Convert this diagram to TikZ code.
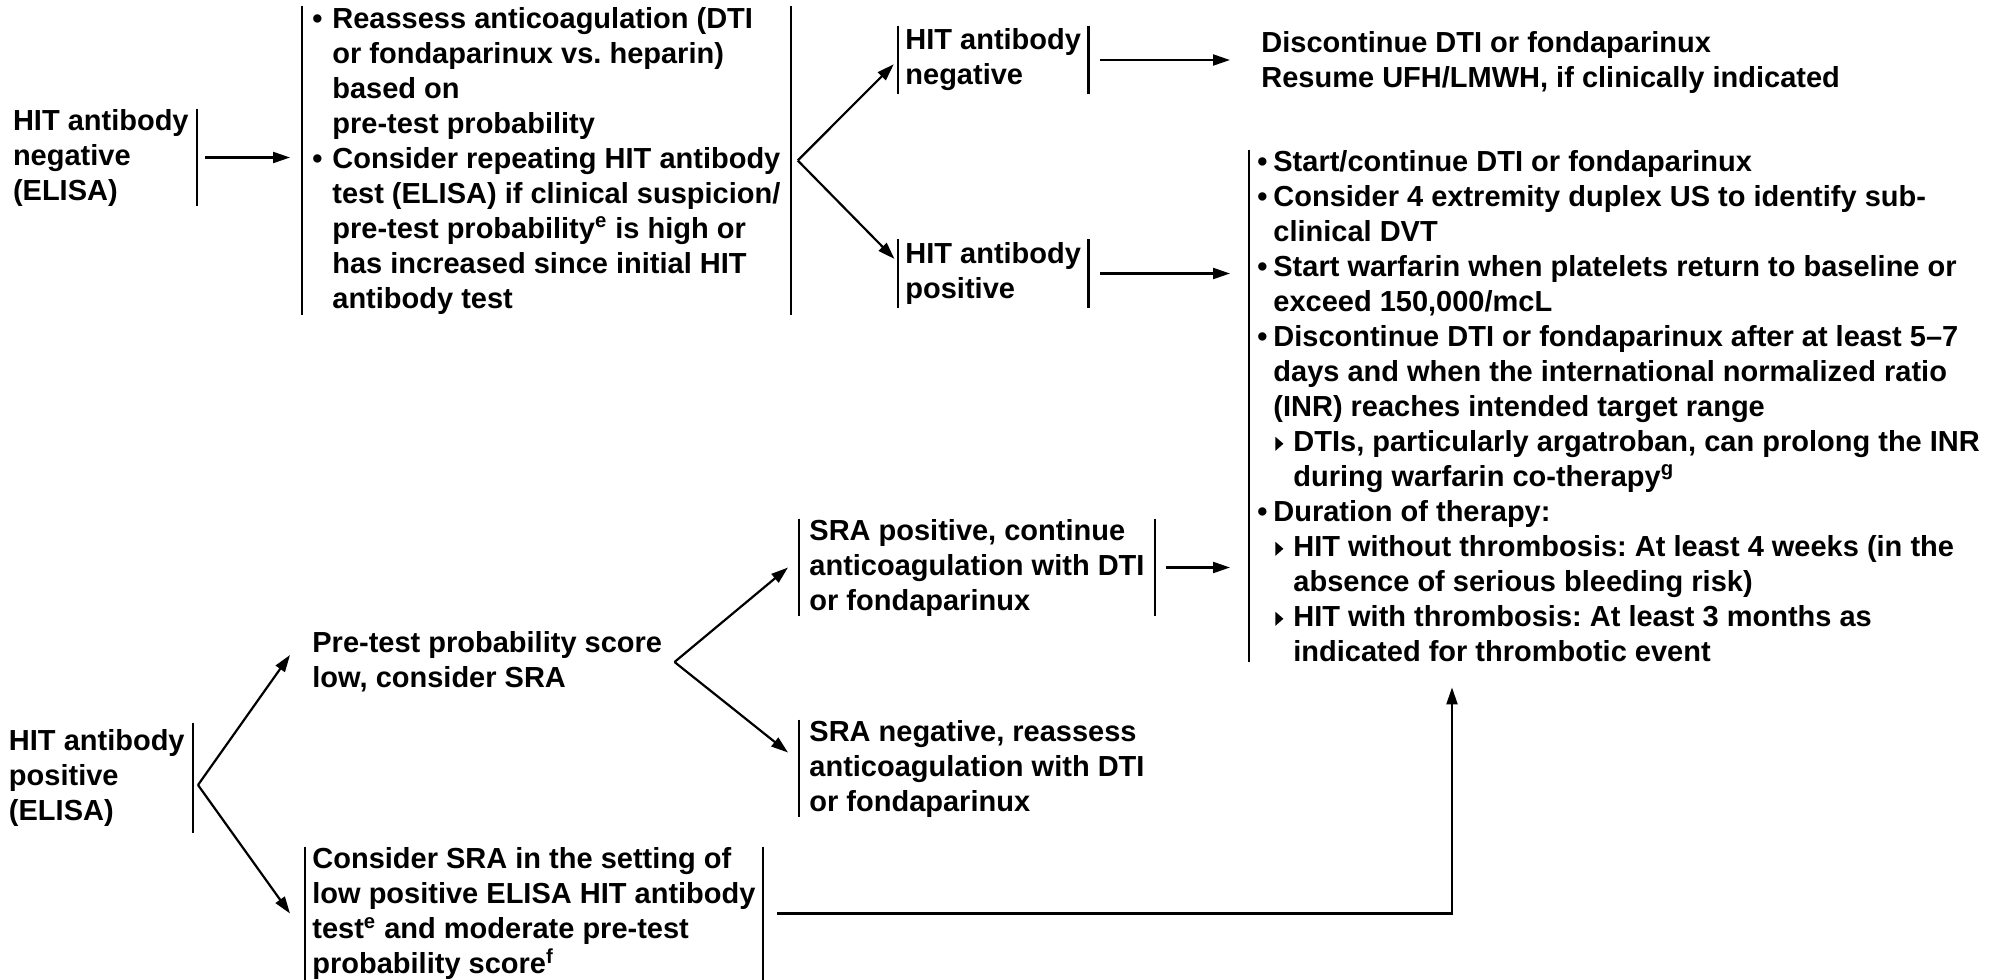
\documentclass[tikz,border=0pt]{standalone}
\usepackage{fontspec}
\setmainfont{Liberation Sans}
\usetikzlibrary{arrows.meta}
\newcommand{\bul}[1][8pt]{\makebox[#1][l]{\textbullet}}
\newcommand{\subbul}{\hspace*{9pt}\makebox[9pt][l]{\tikz[baseline=0pt]\fill (0,0.3pt) -- (0,7.3pt) -- (4pt,3.8pt) -- cycle;}}
\newcommand{\indnt}[1][8pt]{\hspace*{#1}}
\begin{document}
\begin{tikzpicture}[x=0.5pt, y=-0.5pt,
  every node/.style={font=\bfseries\fontsize{14.5}{17.5}\selectfont\frenchspacing, align=left, inner ysep=0pt, inner xsep=4pt},
  arr/.style={-{Triangle[length=8.5pt,width=5.5pt]}, line width=1.1pt},
  bar/.style={line width=1.1pt}]
  \useasboundingbox (0,0) rectangle (2009,980);
  % ELISA results
  \node[anchor=east, minimum height=45.5pt] (neg) at (197,157.5) {HIT antibody\\negative\\(ELISA)};
  \node[anchor=east, minimum height=55pt] (pos) at (193,778) {HIT antibody\\positive\\(ELISA)};
  % negative branch
  \node[anchor=west, minimum height=154.5pt, inner xsep=5pt] (reass) at (302,160.5) {\bul[10pt]Reassess anticoagulation (DTI\\
    \indnt[10pt]or fondaparinux vs. heparin)\\
    \indnt[10pt]based on\\
    \indnt[10pt]pre-test probability\\
    \bul[10pt]Consider repeating HIT antibody\\
    \indnt[10pt]test (ELISA) if clinical suspicion/\\
    \indnt[10pt]pre-test probability\textsuperscript{e} is high or\\
    \indnt[10pt]has increased since initial HIT\\
    \indnt[10pt]antibody test};
  \node[anchor=west, minimum height=34pt, inner xsep=3.5pt] (hneg) at (898,60) {HIT antibody\\negative};
  \node[anchor=west, minimum height=34pt, inner xsep=3.5pt] (hpos) at (898,273.5) {HIT antibody\\positive};
  \node[anchor=west, inner xsep=0pt] (resume) at (1261,62) {Discontinue DTI or fondaparinux\\Resume UFH/LMWH, if clinically indicated};
  % treatment
  \node[anchor=west, minimum height=256pt] (treat) at (1249,406) {\bul Start/continue DTI or fondaparinux\\
    \bul Consider 4 extremity duplex US to identify sub-\\
    \indnt clinical DVT\\
    \bul Start warfarin when platelets return to baseline or\\
    \indnt exceed 150,000/mcL\\
    \bul Discontinue DTI or fondaparinux after at least 5–7\\
    \indnt days and when the international normalized ratio\\
    \indnt (INR) reaches intended target range\\
    \subbul DTIs, particularly argatroban, can prolong the INR\\
    \indnt[18pt]during warfarin co-therapy\textsuperscript{g}\\
    \bul Duration of therapy:\\
    \subbul HIT without thrombosis: At least 4 weeks (in the\\
    \indnt[18pt]absence of serious bleeding risk)\\
    \subbul HIT with thrombosis: At least 3 months as\\
    \indnt[18pt]indicated for thrombotic event};
  % positive branch
  \node[anchor=west, inner xsep=0pt] (pre) at (312,662) {Pre-test probability score\\low, consider SRA};
  \node[anchor=west, minimum height=45.5pt, inner xsep=5pt] (srapos) at (799,567.5) {SRA positive, continue\\anticoagulation with DTI\\or fondaparinux};
  \node[anchor=west, minimum height=48.5pt, inner xsep=5pt] (sraneg) at (799,768.5) {SRA negative, reassess\\anticoagulation with DTI\\or fondaparinux};
  \node[anchor=west, minimum height=66.5pt, inner xsep=3.5pt] (cons) at (305,913.5) {Consider SRA in the setting of\\low positive ELISA HIT antibody\\test\textsuperscript{e} and moderate pre-test\\probability score\textsuperscript{f}};
  % bars
  \draw[bar] (neg.north east) -- (neg.south east);
  \draw[bar] (pos.north east) -- (pos.south east);
  \foreach \n in {reass,hneg,hpos,srapos,cons} {
    \draw[bar] (\n.north west) -- (\n.south west);
    \draw[bar] (\n.north east) -- (\n.south east);
  }
  \foreach \n in {treat,sraneg} \draw[bar] (\n.north west) -- (\n.south west);
  % arrows
  \draw[arr, shorten <=4pt, shorten >=6pt] (neg.east) -- (neg.east -| reass.west);
  \coordinate (f1) at ([xshift=3.5pt]reass.east);
  \draw[arr, shorten >=3pt] (f1) -- (hneg.west);
  \draw[arr, shorten >=2.5pt] (f1) -- ([yshift=5.5pt]hpos.west);
  \draw[arr, shorten <=6pt, shorten >=15.5pt] (hneg.east) -- (hneg.east -| resume.west);
  \draw[arr, shorten <=6pt, shorten >=9.5pt] (hpos.east) -- (hpos.east -| treat.west);
  \coordinate (f2) at ([xshift=2.5pt, yshift=-3.5pt]pos.east);
  \draw[arr] (f2) -- ([xshift=-11pt, yshift=3.5pt]pre.west);
  \draw[arr] (f2) -- ([xshift=-7.5pt]cons.west);
  \coordinate (f3) at ([xshift=6pt]pre.east);
  \draw[arr] (f3) -- ([xshift=-5.5pt]srapos.west);
  \draw[arr] (f3) -- ([xshift=-5.5pt, yshift=8pt]sraneg.west);
  \draw[arr, shorten <=5.5pt, shorten >=9.5pt] (srapos.east) -- (srapos.east -| treat.west);
  \draw[arr, shorten <=7pt, shorten >=12.5pt] (cons.east) -| ([xshift=101.5pt]treat.south west);
\end{tikzpicture}
\end{document}
